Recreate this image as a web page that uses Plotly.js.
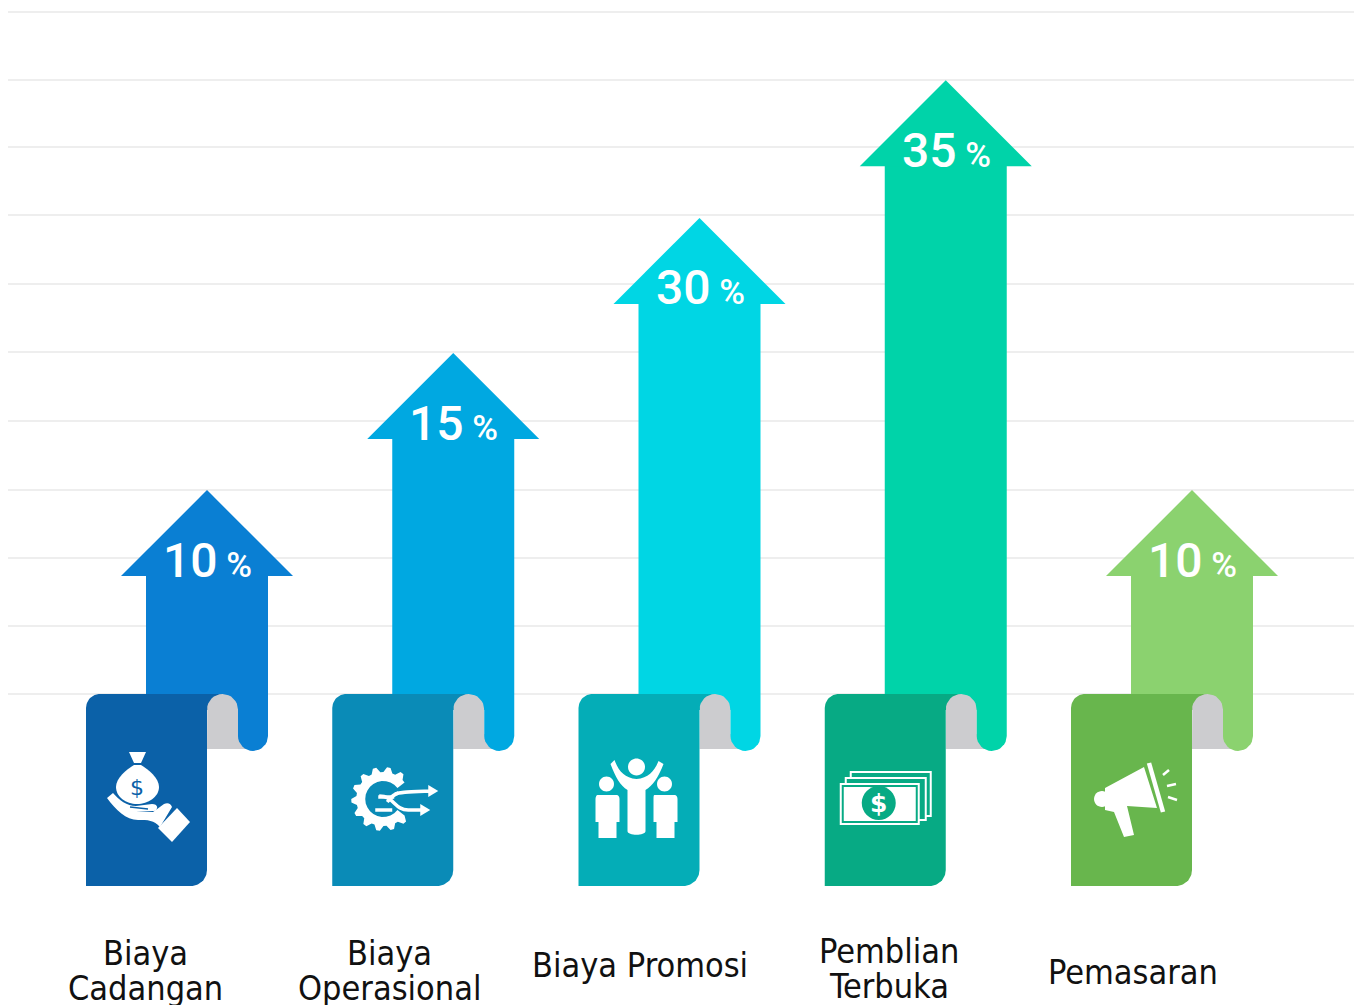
<!DOCTYPE html>
<html><head><meta charset="utf-8">
<script src="https://cdn.plot.ly/plotly-3.0.1.min.js"></script>
<style>html,body{margin:0;padding:0;background:#fff;overflow:hidden}#chart{width:1363px;height:1005px}</style>
</head><body><div id="chart"></div>
<script>
// ---- data ----
const categoryLines = [['Biaya','Cadangan'],['Biaya','Operasional'],['Biaya Promosi'],['Pemblian','Terbuka'],['Pemasaran']];
const percentValues = [10,15,30,35,10];
const arrowHeights  = [2.99,5,6.98,9,2.99];           // height of each arrow, in grid rows
const gridLevels    = [0,0.997,1.994,2.991,4.003,5.015,6.012,7.023,8.02,9.003,10];
const arrowColors   = ['#0a7fd3','#00a8e1','#00d6e4','#00d3a9','#8bd26f'];
const cardColors    = ['#0b61a8','#0a8bb7','#04adb7','#07aa84','#68b64d'];
const labelCenters  = [145,389,640,889,1133];
const labelFirstY   = [953,953,965,951,972];

// ---- geometry (pixels per axis unit and shape sizes) ----
const XS=246.25, YS=68.2, BASE=694, FIRST=207;
const SHAFT=61, HEADW=86, HEADH=86, CARDW=121, CARDH=192;
const xRange=[(8-FIRST)/XS,(1354-FIRST)/XS], yRange=[-(1005-BASE)/YS,BASE/YS];
const dx=d=>d/XS, dy=d=>-d/YS;

function arc(cx,cy,r,a0,a1){const o=[];for(let k=0;k<=16;k++){const a=(a0+(a1-a0)*k/16)*Math.PI/180;o.push([cx+r*Math.cos(a),cy+r*Math.sin(a)]);}return o;}
function poly(i,pts,color,name){return {type:'scatter',mode:'lines',x:pts.map(p=>i+dx(p[0])),y:pts.map(p=>dy(p[1])),fill:'toself',fillcolor:color,line:{width:0,color:color},hoverinfo:'skip',showlegend:false,name:name};}

const traces=[{type:'bar',x:percentValues.map((_,i)=>i),y:arrowHeights.map(h=>h-(HEADH-1.5)/YS),width:2*SHAFT/XS,
  marker:{color:arrowColors,line:{width:0}},hoverinfo:'skip',showlegend:false,name:'Arrow'}];
percentValues.forEach((v,i)=>{
  const h=arrowHeights[i], c=arrowColors[i], k=cardColors[i], top=-h*YS, neck=top+HEADH;
  traces.push(poly(i,[[-HEADW,neck],[0,top],[HEADW,neck],[-HEADW,neck]],c,'head'));
  traces.push(poly(i,[[15,0],[35,0],[35,16],[15,16]],c,'tail corner'));
  traces.push(poly(i,[[-1,0],[15.5,0],[15.5,16],[-1,16]],k,'fold'));
  traces.push(poly(i,[[0,55],[0,15.5],...arc(15.5,15.5,15.5,180,360),[31,40],[46,40],[46,55],[0,55]],'#cccccf','fold'));
  traces.push(poly(i,[[31,0],[SHAFT,0],[SHAFT,42],...arc(46,42,15,0,180),[31,0]],c,'tail'));
  traces.push(poly(i,[...arc(-CARDW+14,14,14,180,270),[0,0],[0,CARDH-16],...arc(-16,CARDH-16,16,0,90),[-CARDW,CARDH]],k,'card'));
});

// ---- icons, in pixels from each card's top-left corner, y downward ----
function flip(s){let n=0;return s.replace(/-?\d+(\.\d+)?/g,m=>(n++%2)?String(-Number(m)):m);}
function circ(cx,cy,r){const q=r*0.5523;return `M${cx-r} ${cy}C${cx-r} ${cy-q} ${cx-q} ${cy-r} ${cx} ${cy-r}C${cx+q} ${cy-r} ${cx+r} ${cy-q} ${cx+r} ${cy}C${cx+r} ${cy+q} ${cx+q} ${cy+r} ${cx} ${cy+r}C${cx-q} ${cy+r} ${cx-r} ${cy+q} ${cx-r} ${cy}Z`;}
function rect(a,b,c,d){return `M${a} ${b}L${c} ${b}L${c} ${d}L${a} ${d}Z`;}
function gear(cx,cy){let p=[];const teeth=11;for(let t=0;t<=teeth*4;t++){const deg=38+(284*t)/(teeth*4);const R=(t%4===1||t%4===2)?32:27;const a=deg*Math.PI/180;p.push([cx+R*Math.cos(a),cy+R*Math.sin(a)]);}
  for(let t=0;t<=20;t++){const deg=322-284*t/20;const a=deg*Math.PI/180;p.push([cx+18*Math.cos(a),cy+18*Math.sin(a)]);}
  return 'M'+p.map(q=>q[0].toFixed(1)+' '+q[1].toFixed(1)).join('L')+'Z';}

const W='#ffffff';
function iconParts(i){
  const k=cardColors[i];
  const f=(d,c)=>({d,fill:c||W});
  const s=(d,w,c)=>({d,stroke:c||W,w});
  return [
   [ f('M43 58L60 58L55 69L48 69Z'),
     f('M48 71C40 76 30 84 30 93C30 103 40 110 51 110C62 110 73 103 73 93C73 84 63 76 55 71Z'),
     f('M21 104L27 99C33 106 41 112 50 112L66 110C72 110 73 115 68 117L50 117L67 118L78 110C82 108 85 110 86 113L74 133C68 126 62 126 52 126C40 126 30 116 21 104Z'),
     f('M91 114L104 128L86 148L72 134Z'),
     s('M44 113L62 115',1.5,k) ],
   [ f(gear(51,105)),
     s('M47 102C62 102 62 116 76 116L92 116',3.5),
     s('M43 116L60 116',3.5), s('M46 103L62 103',3.5),
     s('M63 100C68 98 74 98 100 97',3.5),
     s('M55 108C60 102 62 100 66 99',3.5),
     f('M96 91L106 97L96 103Z'), f('M88 110L98 116L88 122Z') ],
   [ f(circ(58,73,8.5)),
     f('M36 66L32 70C37 83 42 92 49 96L49 137C49 142 67 142 67 137L67 96C74 92 80 83 85 70L80 67C76 77 70 84 58 85C46 84 40 77 36 66Z'),
     f(circ(28,90,7.5)),
     f('M19 101L38 101C40 101 41 103 41 105L41 128L38 128L38 144L20 144L20 128L17 128L17 105C17 103 18 101 19 101Z'),
     f(circ(86,90,7.5)),
     f('M76 101L96 101C98 101 99 103 99 105L99 128L96 128L96 144L78 144L78 128L75 128L75 105C75 103 75 101 76 101Z') ],
   [ f(rect(25,77,107,123)), f(rect(27,79,105,121),k),
     f(rect(20,83,102,127)), f(rect(22,85,100,125),k),
     f(rect(15,89,95,131)),  f(rect(17,91,93,129),k),
     f(rect(19,93,91,127)),
     f(circ(54,109,17),k) ],
   [ f(circ(31,105,8)),
     f('M34 94L73 73L86 114L56 112L63 141L53 143L43 118L34 116Z'),
     s('M78 69L92 118',4.5),
     s('M92 81L98 76',2.5), s('M96 92L105 90',2.5), s('M97 103L106 106',2.5) ]
  ][i];
}
const shapes=[];
percentValues.forEach((v,i)=>iconParts(i).forEach(p=>shapes.push({
  type:'path',layer:'above',xref:'x',yref:'y',xsizemode:'pixel',ysizemode:'pixel',
  xanchor:i-CARDW/XS,yanchor:0,path:flip(p.d),
  fillcolor:p.fill||'rgba(0,0,0,0)',
  line:p.stroke?{color:p.stroke,width:p.w}:{width:0}
})));

// ---- texts ----
const annotations=[];
const ann=(x,y,text,size,color,font,weight)=>({xref:'x',yref:'y',x,y,text,showarrow:false,xanchor:'center',yanchor:'middle',
  font:{family:font,size,color,weight:weight||400},borderpad:0});
percentValues.forEach((v,i)=>{
  annotations.push(ann(i+dx(0.5),arrowHeights[i]+dy(70),v+'<span style="font-size:35px"> %</span>',48,'#ffffff','Roboto, sans-serif',500));
  categoryLines[i].forEach((t,j)=>annotations.push(ann((labelCenters[i]-FIRST)/XS,(BASE-labelFirstY[i]-35*j)/YS,t,34,'#111111','"Liberation Sans Narrow", "DejaVu Sans Condensed", sans-serif')));
});
// currency signs inside the money icons
const sign=(i,lx,ly,size,color,weight)=>ann(i+dx(lx-CARDW),dy(ly),'$',size,color,'"DejaVu Sans", sans-serif',weight);
annotations.push(sign(0,51,93,22,cardColors[0]));
annotations.push(sign(3,54,109,25,'#ffffff',700));

const layout={width:1363,height:1005,margin:{l:8,r:9,t:0,b:0,pad:0},paper_bgcolor:'#fff',plot_bgcolor:'#fff',showlegend:false,barmode:'overlay',
  xaxis:{range:xRange,showgrid:false,zeroline:false,showline:false,showticklabels:false,ticks:'',fixedrange:true},
  yaxis:{range:yRange,tickmode:'array',tickvals:gridLevels,showticklabels:false,ticks:'',showgrid:true,gridcolor:'#eeeeee',gridwidth:2,zeroline:false,showline:false,fixedrange:true},
  shapes,annotations};
Plotly.newPlot('chart',traces,layout,{displayModeBar:false,staticPlot:true});
</script></body></html>
